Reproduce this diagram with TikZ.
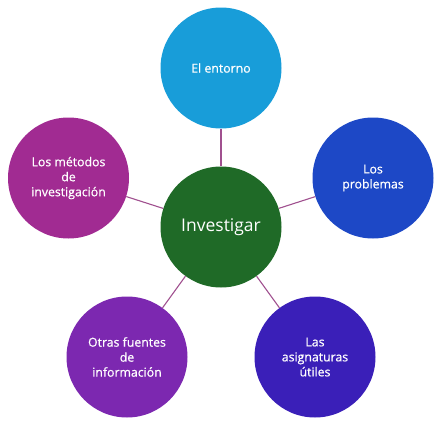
\documentclass[tikz,border=0pt]{standalone}
\usepackage{fontspec}
\setmainfont{Open Sans}
\newfontfamily\medfont{Open Sans}[FakeBold=0.6]
\definecolor{cTop}{HTML}{189DD9}
\definecolor{cRight}{HTML}{1D48C6}
\definecolor{cBR}{HTML}{3A1FB8}
\definecolor{cBL}{HTML}{7C28B0}
\definecolor{cLeft}{HTML}{A12B92}
\definecolor{cCenter}{HTML}{1F6A27}
\definecolor{cLine}{HTML}{A0508F}
\begin{document}
\begin{tikzpicture}[x=1pt,y=-1pt,
  bubble/.style={circle, minimum size=121pt, inner sep=0pt, text=white, align=center,
    font=\medfont\fontsize{12.3}{15}\selectfont},
  link/.style={draw=cLine, line width=1.1pt}]
\useasboundingbox (0,0) rectangle (448,432);
\node[bubble, fill=cCenter, font=\setmainfont{Open Sans}\fontsize{17.5}{20}\selectfont] (c) at (221,227) {Investigar};
\node[bubble, fill=cTop] (t) at (221,68) {El entorno};
\node[bubble, fill=cRight] (r) at (373,178) {Los\\problemas};
\node[bubble, fill=cBR] (br) at (315,357) {Las\\asignaturas\\útiles};
\node[bubble, fill=cBL] (bl) at (127,357) {Otras fuentes\\de\\información};
\node[bubble, fill=cLeft] (l) at (68.5,178) {Los métodos\\de\\investigación};
\foreach \n in {t,r,br,bl,l}{\draw[link] (c) -- (\n);}
\end{tikzpicture}
\end{document}
